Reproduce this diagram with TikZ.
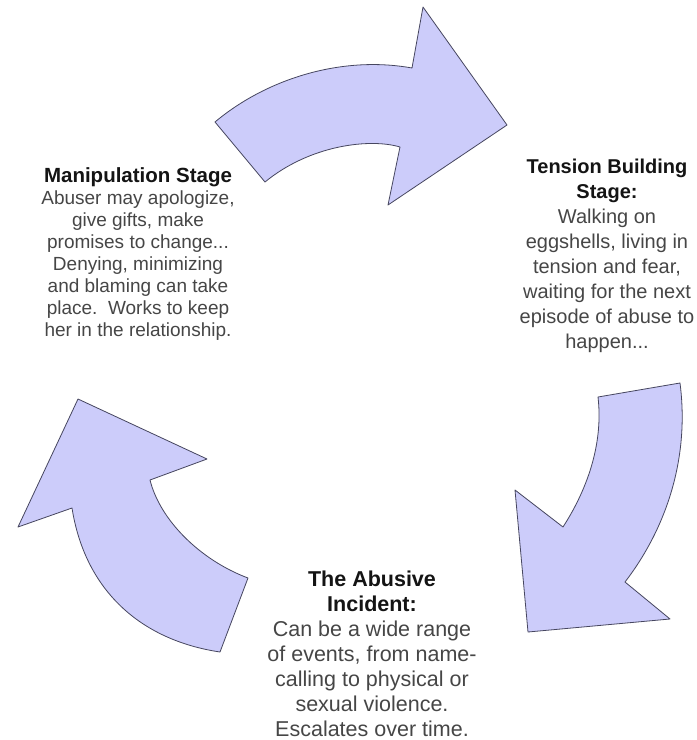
\documentclass[tikz,border=0pt]{standalone}
\usepackage{fontspec}
\setmainfont{Liberation Sans}
\definecolor{arrowfill}{RGB}{204,204,250}
\definecolor{arrowline}{RGB}{70,70,95}
\definecolor{titlecol}{RGB}{20,20,20}
\definecolor{bodycol}{RGB}{70,70,70}
\tikzset{
  cyclearrow/.style={fill=arrowfill, draw=arrowline, line width=0.8pt, line join=round},
  stagetext/.style={anchor=north, align=center, inner sep=0pt, text=bodycol},
}
\begin{document}
\begin{tikzpicture}[x=1pt,y=-1pt]
\useasboundingbox[fill=white] (0,0) rectangle (697,740);
% top arrow
\draw[cyclearrow] (215,122) .. controls (265,80) and (340,55) .. (412,68)
  -- (423,7) -- (507,125) -- (388,205) -- (400,147)
  .. controls (370,138) and (310,145) .. (265,182) -- cycle;
% right arrow
\draw[cyclearrow] (598,397) -- (680,383)
  .. controls (690,460) and (665,530) .. (625,582)
  -- (670,619) -- (528,632) -- (515,490) -- (563,527)
  .. controls (590,485) and (603,440) .. (598,397) -- cycle;
% left arrow
\draw[cyclearrow] (78,399) -- (207,459) -- (150,480)
  .. controls (160,520) and (200,560) .. (248,578)
  -- (220,652)
  .. controls (140,640) and (85,590) .. (72,508)
  -- (18,527) -- cycle;
% texts
\node[stagetext, font=\fontsize{19}{22}\selectfont] (manip) at (138,167.3)
  {{\fontsize{20.5}{22}\selectfont\bfseries\color{titlecol}Manipulation Stage}\\
   Abuser may apologize,\\ give gifts, make\\ promises to change...\\
   Denying, minimizing\\ and blaming can take\\ place.\ \ Works to keep\\
   her in the relationship.};
\node[stagetext, font=\fontsize{20}{25}\selectfont] (tension) at (607,158.7)
  {{\bfseries\color{titlecol}Tension Building}\\ {\bfseries\color{titlecol}Stage:}\\
   Walking on\\ eggshells, living in\\ tension and fear,\\ waiting for the next\\
   episode of abuse to\\ happen...};
\node[stagetext, font=\fontsize{21.5}{25}\selectfont] (incident) at (372,570.6)
  {{\bfseries\color{titlecol}The Abusive}\\ {\bfseries\color{titlecol}Incident:}\\
   Can be a wide range\\ of events, from name-\\ calling to physical or\\
   sexual violence.\\ Escalates over time.};
\end{tikzpicture}
\end{document}
